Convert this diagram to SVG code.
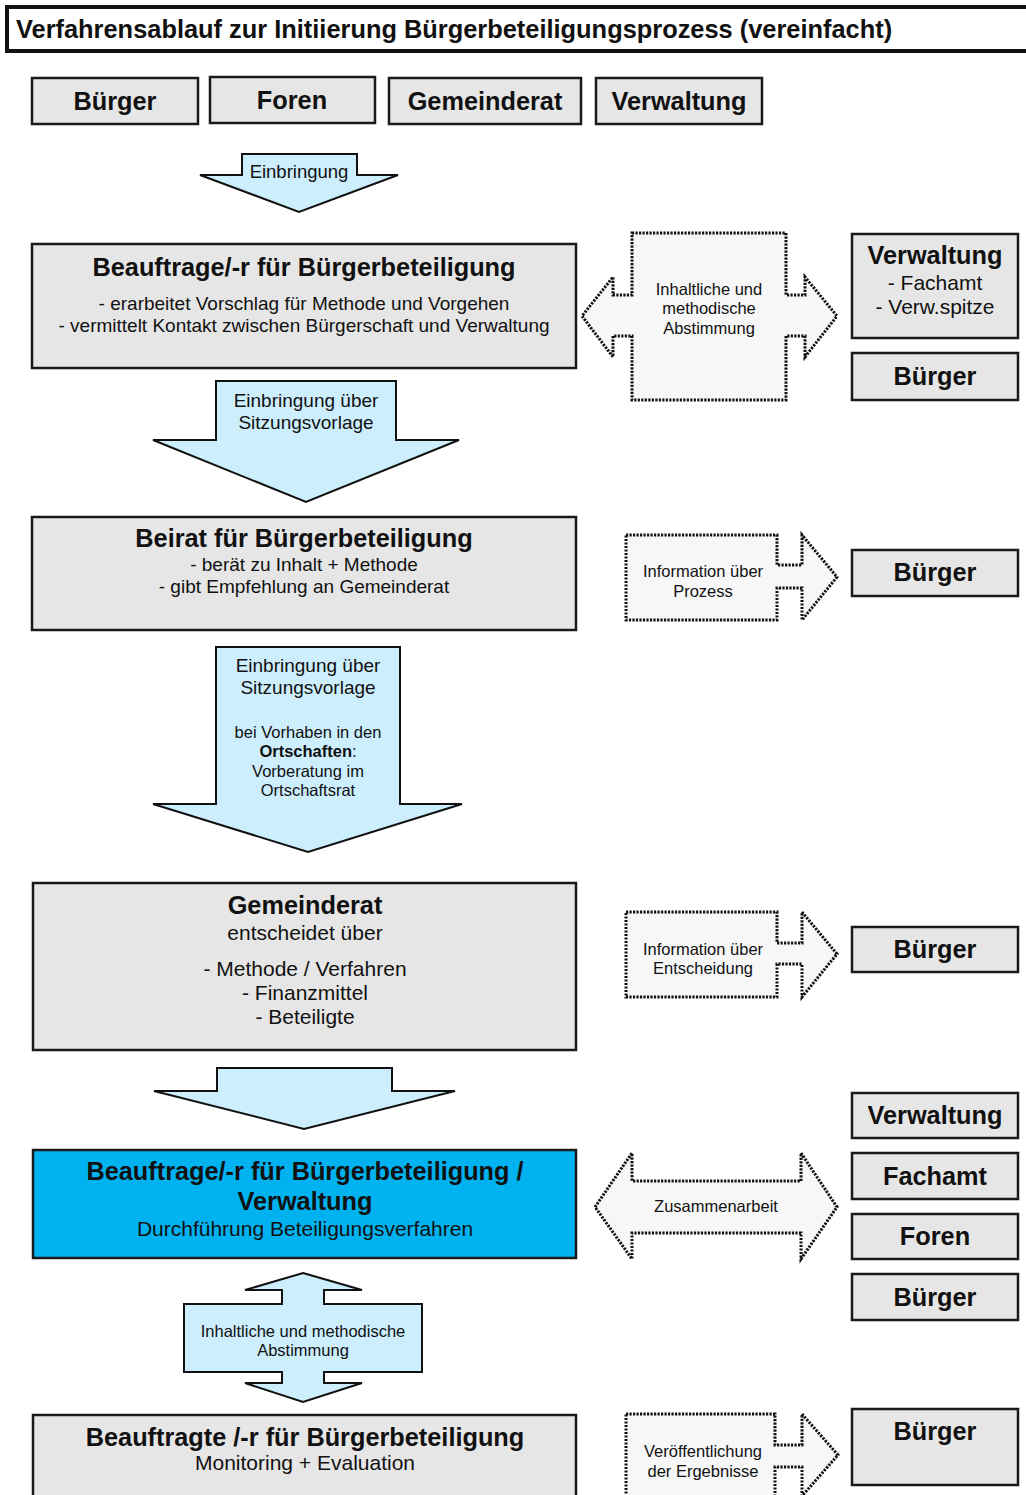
<svg xmlns="http://www.w3.org/2000/svg" width="1026" height="1495" viewBox="0 0 1026 1495">
<style>
text{font-family:"Liberation Sans",Arial,sans-serif;fill:#111;text-anchor:middle}
.box{fill:#e6e6e6;stroke:#1a1a1a;stroke-width:2.5}
.blue{fill:#00b2f0;stroke:#1a1a1a;stroke-width:2.5}
.arr{fill:#cdeefd;stroke:#111;stroke-width:2}
.dot{fill:#f7f7f7;stroke:#111;stroke-width:3;stroke-dasharray:2.2 1.3}
.h{font-weight:bold;font-size:25.3px}
.t{font-size:19px}
.m{font-size:21px}
.s{font-size:16.5px}
</style>
<rect x="0" y="0" width="1026" height="1495" fill="#fff"/>
<g id="title">
<rect x="7" y="7" width="1030" height="44" fill="#fff" stroke="#111" stroke-width="4"/>
<text x="16" y="38" style="text-anchor:start;font-weight:bold;font-size:25.4px">Verfahrensablauf zur Initiierung Bürgerbeteiligungsprozess (vereinfacht)</text>
</g>
<g id="hdr-buerger"><rect class="box" x="32" y="78" width="166" height="46"/><text class="h" x="115" y="110">Bürger</text></g>
<g id="hdr-foren"><rect class="box" x="210" y="77" width="165" height="46"/><text class="h" x="292" y="109">Foren</text></g>
<g id="hdr-gemeinderat"><rect class="box" x="389" y="78" width="192" height="46"/><text class="h" x="485" y="110">Gemeinderat</text></g>
<g id="hdr-verwaltung"><rect class="box" x="596" y="78" width="166" height="46"/><text class="h" x="679" y="110">Verwaltung</text></g>

<g id="connectors">
<path class="arr" d="M242,154 H357 V175 H398 L299,212 L200,175 H242 Z"/>
<text class="t" x="299" y="178" style="font-size:18.5px">Einbringung</text>
<path class="arr" d="M216,381 H396 V440 H459 L306,502 L153,440 H216 Z"/>
<text class="t" x="306" y="407">Einbringung über</text>
<text class="t" x="306" y="429">Sitzungsvorlage</text>
<path class="arr" d="M216,647 H400 V804 H462 L308,852 L153,804 H216 Z"/>
<text class="t" x="308" y="672">Einbringung über</text>
<text class="t" x="308" y="694">Sitzungsvorlage</text>
<text x="308" y="738" style="font-size:16.5px">bei Vorhaben in den</text>
<text x="308" y="757" style="font-size:16.5px"><tspan font-weight="bold">Ortschaften</tspan>:</text>
<text x="308" y="777" style="font-size:16.5px">Vorberatung im</text>
<text x="308" y="796" style="font-size:16.5px">Ortschaftsrat</text>
<path class="arr" d="M217,1068 H392 V1091 H455 L304,1129 L154,1091 H217 Z"/>
<path class="arr" d="M303,1273 L362,1290 H324 V1304 H422 V1372 H324 V1383 H362 L303,1402 L245,1383 H282 V1372 H184 V1304 H282 V1290 H245 Z"/>
<text class="s" x="303" y="1337">Inhaltliche und methodische</text>
<text class="s" x="303" y="1356">Abstimmung</text>

<path class="dot" d="M632,233 H786 V295 H805 V277 L837,316 L805,357 V336 H786 V400 H632 V336 H613 V357 L582,316 L613,277 V295 H632 Z"/>
<text class="s" x="709" y="295">Inhaltliche und</text>
<text class="s" x="709" y="314">methodische</text>
<text class="s" x="709" y="334">Abstimmung</text>
<path class="dot" d="M626,535 H777 V565 H802 V535 L837,577 L802,620 V588 H777 V620 H626 Z"/>
<text class="s" x="703" y="577">Information über</text>
<text class="s" x="703" y="597">Prozess</text>
<path class="dot" d="M626,912 H777 V943 H802 V912 L837,954 L802,997 V964 H777 V997 H626 Z"/>
<text class="s" x="703" y="955">Information über</text>
<text class="s" x="703" y="974">Entscheidung</text>
<path class="dot" d="M595,1207 L632,1153 V1181 H801 V1153 L837,1207 L801,1259 V1233 H632 V1259 Z"/>
<text class="s" x="716" y="1212">Zusammenarbeit</text>
<path class="dot" d="M626,1414 H775 V1445 H802 V1414 L838,1455 L802,1496 V1467 H775 V1500 H626 Z"/>
<text class="s" x="703" y="1457">Veröffentlichung</text>
<text class="s" x="703" y="1477">der Ergebnisse</text>
</g>

<g id="beauftragte1">
<rect class="box" x="32" y="244" width="544" height="124"/>
<text class="h" x="304" y="276">Beauftrage/-r für Bürgerbeteiligung</text>
<text class="t" x="304" y="310">- erarbeitet Vorschlag für Methode und Vorgehen</text>
<text class="t" x="304" y="332">- vermittelt Kontakt zwischen Bürgerschaft und Verwaltung</text>
</g>
<g id="r-verwaltung1">
<rect class="box" x="852" y="234" width="166" height="104"/>
<text class="h" x="935" y="264">Verwaltung</text>
<text class="m" x="935" y="290">- Fachamt</text>
<text class="m" x="935" y="314">- Verw.spitze</text>
</g>
<g id="r-buerger1"><rect class="box" x="852" y="353" width="166" height="47"/><text class="h" x="935" y="385">Bürger</text></g>

<g id="beirat">
<rect class="box" x="32" y="517" width="544" height="113"/>
<text class="h" x="304" y="547">Beirat für Bürgerbeteiligung</text>
<text class="t" x="304" y="571">- berät zu Inhalt + Methode</text>
<text class="t" x="304" y="593">- gibt Empfehlung an Gemeinderat</text>
</g>
<g id="r-buerger2"><rect class="box" x="852" y="550" width="166" height="46"/><text class="h" x="935" y="581">Bürger</text></g>

<g id="gemeinderat">
<rect class="box" x="33" y="883" width="543" height="167"/>
<text class="h" x="305" y="914">Gemeinderat</text>
<text class="m" x="305" y="940">entscheidet über</text>
<text class="m" x="305" y="976">- Methode / Verfahren</text>
<text class="m" x="305" y="1000">- Finanzmittel</text>
<text class="m" x="305" y="1024">- Beteiligte</text>
</g>
<g id="r-buerger3"><rect class="box" x="852" y="927" width="166" height="45"/><text class="h" x="935" y="958">Bürger</text></g>

<g id="durchfuehrung">
<rect class="blue" x="33" y="1150" width="543" height="108"/>
<text class="h" x="305" y="1180">Beauftrage/-r für Bürgerbeteiligung /</text>
<text class="h" x="305" y="1210">Verwaltung</text>
<text class="m" x="305" y="1236">Durchführung Beteiligungsverfahren</text>
</g>
<g id="r-verwaltung2"><rect class="box" x="852" y="1093" width="166" height="45"/><text class="h" x="935" y="1124">Verwaltung</text></g>
<g id="r-fachamt"><rect class="box" x="852" y="1153" width="166" height="46"/><text class="h" x="935" y="1185">Fachamt</text></g>
<g id="r-foren"><rect class="box" x="852" y="1214" width="166" height="45"/><text class="h" x="935" y="1245">Foren</text></g>
<g id="r-buerger4"><rect class="box" x="852" y="1274" width="166" height="46"/><text class="h" x="935" y="1306">Bürger</text></g>

<g id="monitoring">
<rect class="box" x="33" y="1415" width="543" height="100"/>
<text class="h" x="305" y="1446">Beauftragte /-r für Bürgerbeteiligung</text>
<text class="m" x="305" y="1470">Monitoring + Evaluation</text>
</g>
<g id="r-buerger5"><rect class="box" x="852" y="1409" width="166" height="76"/><text class="h" x="935" y="1440">Bürger</text></g>
</svg>
